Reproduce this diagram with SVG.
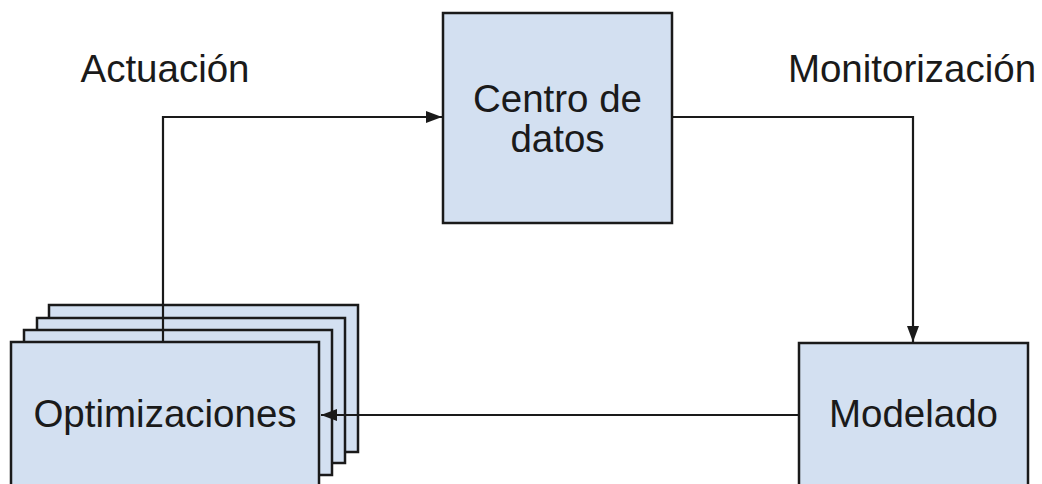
<svg xmlns="http://www.w3.org/2000/svg" width="1042" height="484" viewBox="0 0 1042 484">
  <style>
    .box { fill: #d3e0f1; stroke: #1a1a1a; stroke-width: 2.5; }
    .lbl { font-family: "Liberation Sans", Arial, sans-serif; font-size: 38.5px; fill: #1a1a1a; text-anchor: middle; }
    .wire { fill: none; stroke: #1a1a1a; stroke-width: 2.2; }
  </style>
  <defs>
    <marker id="arrow" viewBox="0 0 16 12" refX="16" refY="6" markerWidth="16" markerHeight="12" markerUnits="userSpaceOnUse" orient="auto">
      <path d="M0,0 L16,6 L0,12 Z" fill="#1a1a1a"/>
    </marker>
  </defs>
  <rect width="1042" height="484" fill="#ffffff"/>

  <!-- stacked optimisation boxes -->
  <g id="optimizaciones">
    <rect class="box" x="49" y="305" width="309" height="147"/>
    <rect class="box" x="37" y="318" width="308" height="145"/>
    <rect class="box" x="24" y="330" width="308" height="145"/>
    <rect class="box" x="11" y="342" width="308" height="150"/>
    <text class="lbl" x="165" y="427">Optimizaciones</text>
  </g>

  <g id="centro">
    <rect class="box" x="443" y="13" width="229" height="210"/>
    <text class="lbl" x="557.5" y="112">Centro de</text>
    <text class="lbl" x="557.5" y="152">datos</text>
  </g>

  <g id="modelado">
    <rect class="box" x="799" y="343" width="229" height="150"/>
    <text class="lbl" x="913.5" y="427">Modelado</text>
  </g>

  <g id="connectors">
    <polyline class="wire" points="163,342 163,117 442,117" marker-end="url(#arrow)"/>
    <polyline class="wire" points="672,117 913,117 913,342" marker-end="url(#arrow)"/>
    <line class="wire" x1="799" y1="415" x2="321" y2="415" marker-end="url(#arrow)"/>
  </g>

  <g id="labels">
    <text class="lbl" x="165" y="82">Actuación</text>
    <text class="lbl" x="912" y="82">Monitorización</text>
  </g>
</svg>
